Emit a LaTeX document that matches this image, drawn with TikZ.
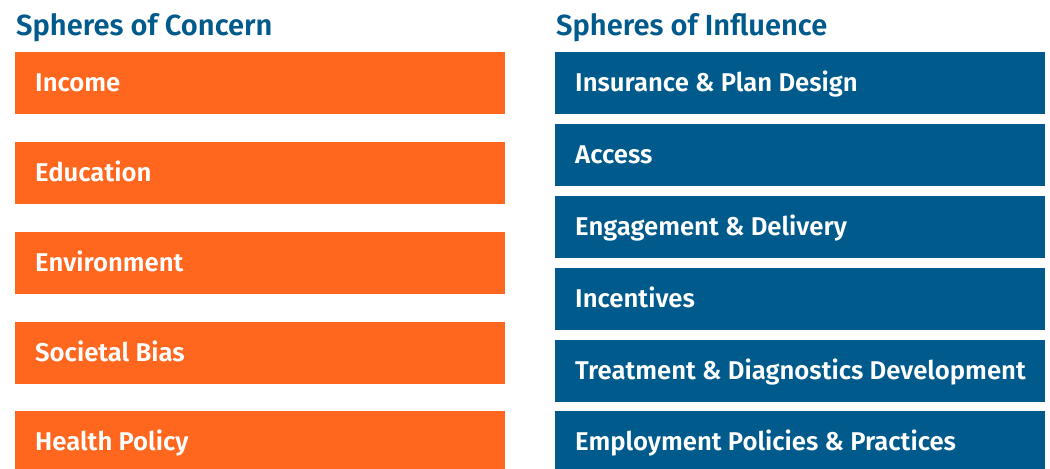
\documentclass[tikz,border=0pt]{standalone}
\usepackage{fontspec}
\setmainfont{Fira Sans}[BoldFont={Fira Sans SemiBold}]
\definecolor{concern}{HTML}{FF671F}
\definecolor{influence}{HTML}{005A8C}
\begin{document}
\begin{tikzpicture}[x=1bp,y=-1bp,
  heading/.style={anchor=base west,inner sep=0pt,text=influence,font=\bfseries\fontsize{29.2}{32}\selectfont},
  sphere/.style={anchor=north west,rectangle,inner sep=0pt,minimum width=490bp,minimum height=62bp},
  concernbox/.style={sphere,fill=concern},
  influencebox/.style={sphere,fill=influence},
  spheretext/.style={anchor=base west,inner sep=0pt,text=white,font=\bfseries\fontsize{25.8}{28}\selectfont}]
\clip (0,0) rectangle (1050,469);
\fill[white] (0,0) rectangle (1050,469);

% column headings
\node[heading] (hc) at (16,36) {Spheres of Concern};
\node[heading] (hi) at (556,36) {Spheres of Influence};

% spheres of concern
\foreach \name/\top/\label in {c1/52/Income, c2/142/Education, c3/232/Environment,
    c4/322/Societal Bias, c5/411/Health Policy}{
  \node[concernbox] (\name) at (15,\top) {};
  \node[spheretext] (\name t) at ([shift={(20,8.8)}]\name.west) {\label};
}

% spheres of influence
\foreach \name/\top/\label in {i1/52/Insurance \& Plan Design, i2/124/Access,
    i3/196/Engagement \& Delivery, i4/268/Incentives,
    i5/340/Treatment \& Diagnostics Development, i6/411/Employment Policies \& Practices}{
  \node[influencebox] (\name) at (555,\top) {};
  \node[spheretext] (\name t) at ([shift={(20,8.8)}]\name.west) {\label};
}
\end{tikzpicture}
\end{document}
